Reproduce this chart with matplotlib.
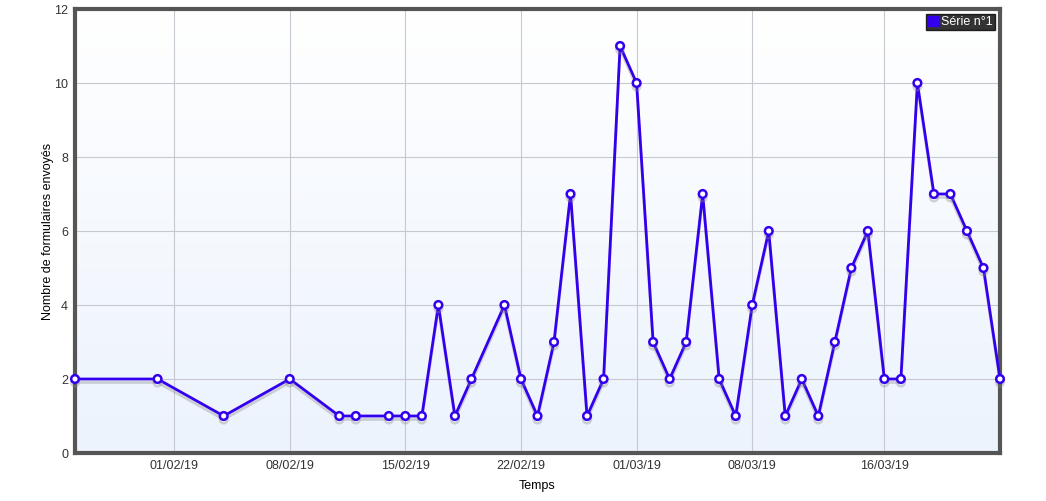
import matplotlib
matplotlib.use("Agg")
import matplotlib.pyplot as plt
import matplotlib.patheffects as pe
from matplotlib.patches import Rectangle
import numpy as np
from datetime import datetime

dates = ["2019-01-26", "2019-01-31", "2019-02-04", "2019-02-08", "2019-02-11", "2019-02-12",
         "2019-02-14", "2019-02-15", "2019-02-16", "2019-02-17", "2019-02-18", "2019-02-19",
         "2019-02-21", "2019-02-22", "2019-02-23", "2019-02-24", "2019-02-25", "2019-02-26",
         "2019-02-27", "2019-02-28", "2019-03-01", "2019-03-02", "2019-03-03", "2019-03-04",
         "2019-03-05", "2019-03-06", "2019-03-07", "2019-03-08", "2019-03-09", "2019-03-10",
         "2019-03-11", "2019-03-12", "2019-03-13", "2019-03-14", "2019-03-15", "2019-03-16",
         "2019-03-17", "2019-03-18", "2019-03-19", "2019-03-20", "2019-03-21", "2019-03-22",
         "2019-03-23"]
values = [2, 2, 1, 2, 1, 1, 1, 1, 1, 4, 1, 2, 4, 2, 1, 3, 7, 1, 2, 11, 10, 3, 2, 3, 7, 2, 1,
          4, 6, 1, 2, 1, 3, 5, 6, 2, 2, 10, 7, 7, 6, 5, 2]
tick_dates = ["2019-02-01", "2019-02-08", "2019-02-15", "2019-02-22", "2019-03-01",
              "2019-03-08", "2019-03-16"]
tick_labels = ["01/02/19", "08/02/19", "15/02/19", "22/02/19", "01/03/19", "08/03/19", "16/03/19"]
y_ticks = [0, 2, 4, 6, 8, 10, 12]
series_name = "Série n°1"

plt.rcParams['font.family'] = ['Liberation Sans', 'DejaVu Sans']

x = [datetime.strptime(d, "%Y-%m-%d") for d in dates]
tx = [datetime.strptime(d, "%Y-%m-%d") for d in tick_dates]

fig = plt.figure(figsize=(10.46, 5.01), dpi=100)
ax = fig.add_axes([75/1046, 1-453/501, 925/1046, 444/501])

ax.set_xlim(x[0], x[-1])
ax.set_ylim(0, 12)

# gradient background
grad = np.linspace(0, 1, 256).reshape(-1, 1)
top = np.array([1.0, 1.0, 1.0])
bot = np.array([0xec, 0xf3, 0xfd]) / 255
img = top + (bot - top) * grad[..., None] * np.ones((1, 1, 3))
ax.imshow(img.reshape(256, 1, 3), extent=[0, 1, 0, 1], transform=ax.transAxes,
          aspect='auto', zorder=0)

ax.set_xticks(tx)
ax.set_xticklabels(tick_labels)
ax.set_yticks(y_ticks)
ax.grid(True, color='#c8c8d0', linewidth=0.8, zorder=1)
ax.tick_params(length=0, labelsize=9, colors='#333333', pad=5)

for s in ax.spines.values():
    s.set_color('#555555')
    s.set_linewidth(3)

ax.plot(x, values, color='#3300ee', linewidth=2, marker='o', markersize=5.5,
        markerfacecolor='white', markeredgecolor='#3300ee', markeredgewidth=1.8,
        zorder=3, clip_on=False,
        path_effects=[pe.SimpleLineShadow(offset=(0, -2.5), shadow_color='#888888', alpha=0.35),
                      pe.Normal()])

ax.set_xlabel("Temps", fontsize=9, labelpad=6)
ax.set_ylabel("Nombre de formulaires envoyés", fontsize=9, labelpad=0)

handle = Rectangle((0, 0), 1, 1, facecolor='#3300ee', edgecolor='#3300ee')
leg = ax.legend([handle], [series_name], loc='upper right', frameon=True, fontsize=9,
                handlelength=0.9, handleheight=0.9, borderpad=0.15, handletextpad=0.2,
                borderaxespad=0.4, fancybox=False)
leg.get_frame().set_facecolor('black')
leg.get_frame().set_edgecolor('black')
for t in leg.get_texts():
    t.set_color('white')

fig.savefig("out.png", dpi=100)
